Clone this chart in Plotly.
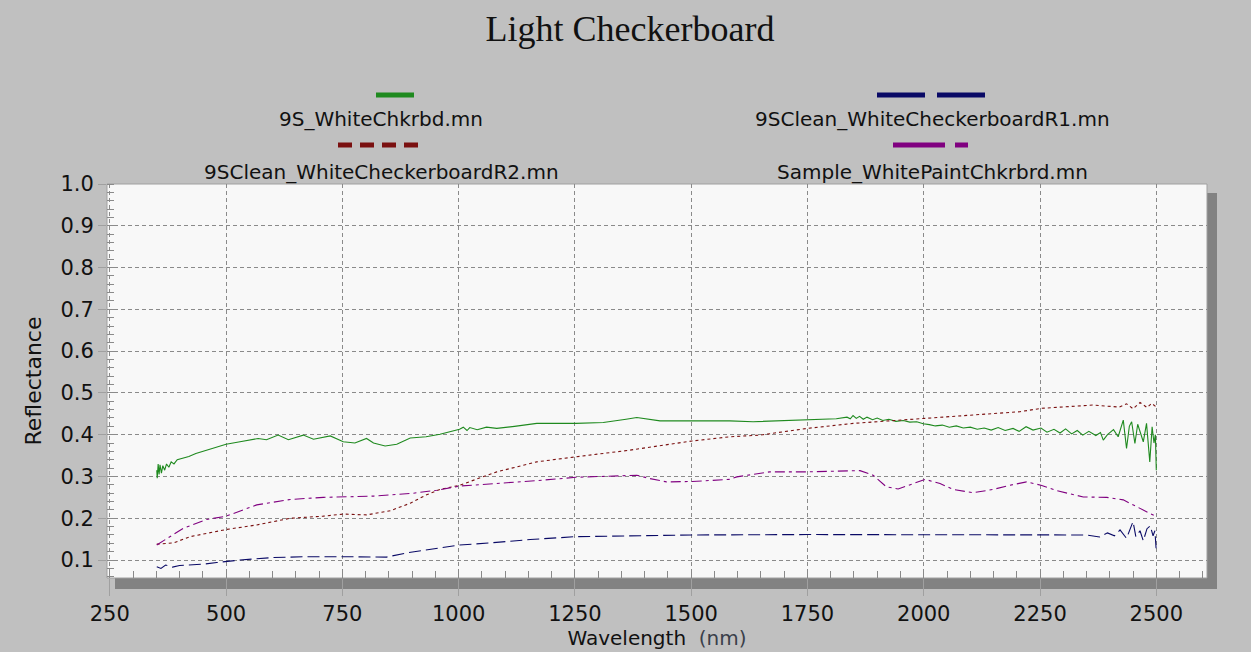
import plotly.graph_objects as go

# ---------------- data ----------------
SERIES_NAMES = ["9S_WhiteChkrbd.mn", "9SClean_WhiteCheckerboardR1.mn",
                "9SClean_WhiteCheckerboardR2.mn", "Sample_WhitePaintChkrbrd.mn"]

GREEN_NM = [351, 352, 354, 356, 358, 361, 364, 368, 372, 377, 382, 388, 395, 408, 420, 435, 458, 480,
            500, 530, 569, 587, 612, 634, 666, 688, 724, 752, 777, 802, 817, 842, 867, 896, 930, 960,
            1002, 1010, 1018, 1024, 1040, 1060, 1082, 1120, 1168, 1252, 1311, 1360, 1383, 1433, 1502,
            1583, 1633, 1700, 1749, 1812, 1835, 1842, 1848, 1855, 1862, 1870, 1878, 1890, 1900, 1912,
            1925, 1940, 1956, 1970, 1985, 1999, 2012, 2025, 2040, 2055, 2070, 2085, 2100, 2115, 2130,
            2145, 2160, 2175, 2192, 2205, 2220, 2235, 2252, 2265, 2280, 2293, 2305, 2318, 2330, 2342,
            2355, 2370, 2380, 2386, 2395, 2408, 2418, 2429, 2436, 2442, 2447, 2454, 2460, 2465, 2472,
            2479, 2486, 2491, 2495, 2498, 2500]
GREEN_R = [0.315, 0.296, 0.330, 0.305, 0.328, 0.308, 0.326, 0.315, 0.330, 0.322, 0.335, 0.330, 0.340,
           0.344, 0.348, 0.355, 0.363, 0.370, 0.377, 0.383, 0.391, 0.388, 0.399, 0.388, 0.399, 0.389,
           0.397, 0.383, 0.380, 0.391, 0.380, 0.373, 0.377, 0.392, 0.395, 0.401, 0.413, 0.418, 0.410,
           0.417, 0.412, 0.418, 0.415, 0.420, 0.427, 0.427, 0.429, 0.437, 0.441, 0.433, 0.433, 0.433,
           0.431, 0.434, 0.436, 0.438, 0.442, 0.438, 0.446, 0.439, 0.444, 0.437, 0.442, 0.436, 0.440,
           0.434, 0.437, 0.432, 0.434, 0.430, 0.431, 0.426, 0.424, 0.421, 0.423, 0.418, 0.421, 0.416,
           0.418, 0.413, 0.416, 0.411, 0.417, 0.410, 0.415, 0.408, 0.419, 0.411, 0.416, 0.406, 0.413,
           0.404, 0.414, 0.402, 0.410, 0.399, 0.408, 0.398, 0.405, 0.387, 0.400, 0.412, 0.395, 0.435,
           0.367, 0.420, 0.431, 0.379, 0.425, 0.409, 0.383, 0.427, 0.335, 0.419, 0.380, 0.400, 0.315]

NAVY_NM = [351, 360, 370, 385, 400, 423, 450, 480, 530, 602, 673, 745, 817, 845, 888, 946, 1002, 1068,
           1154, 1252, 1368, 1502, 1750, 2000, 2250, 2350, 2378, 2395, 2410, 2422, 2436, 2450, 2456,
           2465, 2472, 2480, 2487, 2493, 2497, 2500]
NAVY_R = [0.084, 0.080, 0.088, 0.083, 0.087, 0.088, 0.090, 0.094, 0.100, 0.106, 0.108, 0.108, 0.107,
          0.107, 0.117, 0.126, 0.136, 0.141, 0.149, 0.156, 0.158, 0.160, 0.161, 0.160, 0.160, 0.160,
          0.155, 0.165, 0.158, 0.172, 0.152, 0.192, 0.156, 0.170, 0.146, 0.175, 0.182, 0.158, 0.170,
          0.120]

RED_NM = [351, 387, 423, 500, 566, 638, 709, 752, 802, 853, 896, 931, 960, 1002, 1082, 1168, 1252,
          1368, 1502, 1583, 1648, 1749, 1848, 1999, 2135, 2207, 2252, 2365, 2420, 2436, 2450, 2465,
          2480, 2490, 2500]
RED_R = [0.138, 0.141, 0.156, 0.173, 0.184, 0.200, 0.205, 0.210, 0.208, 0.218, 0.236, 0.256, 0.269,
         0.279, 0.311, 0.335, 0.347, 0.363, 0.385, 0.395, 0.399, 0.415, 0.427, 0.439, 0.451, 0.455,
         0.463, 0.471, 0.466, 0.474, 0.462, 0.477, 0.465, 0.475, 0.466]

PURPLE_NM = [351, 380, 408, 458, 500, 566, 638, 709, 817, 903, 953, 1002, 1082, 1168, 1252, 1333, 1383,
             1411, 1447, 1502, 1583, 1598, 1669, 1749, 1863, 1891, 1920, 1945, 1977, 2003, 2035, 2063,
             2106, 2149, 2185, 2221, 2252, 2286, 2343, 2393, 2429, 2457, 2486, 2498]
PURPLE_R = [0.136, 0.156, 0.176, 0.197, 0.205, 0.232, 0.245, 0.250, 0.253, 0.260, 0.267, 0.277, 0.283,
            0.290, 0.298, 0.302, 0.303, 0.295, 0.287, 0.288, 0.293, 0.299, 0.311, 0.311, 0.314, 0.303,
            0.275, 0.270, 0.283, 0.293, 0.283, 0.269, 0.261, 0.269, 0.279, 0.287, 0.279, 0.266, 0.251,
            0.250, 0.244, 0.228, 0.212, 0.205]

X_TICKS = [250, 500, 750, 1000, 1250, 1500, 1750, 2000, 2250, 2500]
Y_TICKS = [0.1, 0.2, 0.3, 0.4, 0.5, 0.6, 0.7, 0.8, 0.9, 1.0]

COLORS = ["#1f8a1f", "#0a0a66", "#7a1010", "#800080"]
DASHES = ["solid", "12px,5px", "3px,3px", "10px,4px,3px,4px"]

SANS = "DejaVu Sans, Verdana, sans-serif"

# ---------------- layout geometry ----------------
W, H = 1251, 652
L, R, T, B = 107, 1207, 184, 578


def px(x):
    return (x - L) / (R - L)


def py(y):
    return (B - y) / (B - T)


fig = go.Figure()
for nm, rr, name, c, d in zip([GREEN_NM, NAVY_NM, RED_NM, PURPLE_NM],
                              [GREEN_R, NAVY_R, RED_R, PURPLE_R], SERIES_NAMES, COLORS, DASHES):
    fig.add_trace(go.Scatter(x=nm, y=rr, mode="lines", name=name,
                             line=dict(color=c, width=1.1, dash=d), showlegend=False))

shapes = [
    # shadow
    dict(type="rect", xref="paper", yref="paper", x0=px(115), x1=px(1217), y0=py(589), y1=py(193),
         fillcolor="#828282", line=dict(width=0), layer="below"),
    # plot area
    dict(type="rect", xref="paper", yref="paper", x0=0, x1=1, y0=0, y1=1,
         fillcolor="#f8f8f8", line=dict(color="#a0a0a0", width=1), layer="below"),
]

# custom legend (line sample above, text below)
legend_items = [
    (SERIES_NAMES[0], COLORS[0], "solid", 376, 414, 95, 381, 119),
    (SERIES_NAMES[1], COLORS[1], "48px,12px", 877, 987, 95, 932, 119),
    (SERIES_NAMES[2], COLORS[2], "14px,8px", 338, 423, 145, 381, 172),
    (SERIES_NAMES[3], COLORS[3], "52px,10px,13px,100px", 893, 968, 145, 932, 172),
]
annotations = []
for name, c, d, x0, x1, ly, tx, ty in legend_items:
    shapes.append(dict(type="line", xref="paper", yref="paper", x0=px(x0), x1=px(x1),
                       y0=py(ly), y1=py(ly), line=dict(color=c, width=5, dash=d)))
    annotations.append(dict(text=name, xref="paper", yref="paper", x=px(tx), y=py(ty),
                            xanchor="center", yanchor="middle", showarrow=False,
                            font=dict(family=SANS, size=20, color="#111111")))

fig.update_layout(
    width=W, height=H,
    margin=dict(l=L, r=W - R, t=T, b=H - B, autoexpand=False),
    paper_bgcolor="#c0c0c0",
    plot_bgcolor="rgba(0,0,0,0)",
    title=dict(text="Light Checkerboard", xref="container", yref="container",
               x=630 / W, y=1 - 28 / H, xanchor="center", yanchor="middle",
               font=dict(family="Liberation Serif, Times New Roman", size=36, color="#111111")),
    shapes=shapes,
    annotations=annotations,
    showlegend=False,
    font=dict(family=SANS, color="#111111"),
)

fig.update_xaxes(
    range=[244, 2609], tickvals=X_TICKS, ticktext=[str(v) for v in X_TICKS],
    showgrid=True, gridcolor="#8a8a8a", gridwidth=1, griddash="4px,3px",
    ticks="outside", ticklen=17, tickcolor="#a0a0a0", tickwidth=1,
    tickfont=dict(family=SANS, size=21, color="#111111"),
    showline=False, zeroline=False,
    minor=dict(dtick=50, tick0=0, ticks="inside", ticklen=7, tickcolor="#8a8a8a", showgrid=False),
    title=dict(text="Wavelength&nbsp; <span style='color:#3a3f4a'>(nm)</span>", standoff=2,
               font=dict(family=SANS, size=20, color="#111111")),
    automargin=False,
)
fig.update_yaxes(
    range=[0.057, 1.0], tickvals=Y_TICKS, ticktext=["%.1f" % v for v in Y_TICKS],
    showgrid=True, gridcolor="#8a8a8a", gridwidth=1, griddash="4px,3px",
    ticks="outside", ticklen=8, tickcolor="#a0a0a0", tickwidth=1,
    tickfont=dict(family=SANS, size=21, color="#111111"),
    showline=False, zeroline=False,
    minor=dict(dtick=0.02, tick0=0, ticks="inside", ticklen=7, tickcolor="#8a8a8a", showgrid=False),
    title=dict(text="Reflectance", standoff=12, font=dict(family=SANS, size=22, color="#111111")),
    automargin=False,
)

fig.write_html("out.html", config={"displayModeBar": False},
               post_script="document.body.style.margin='0';document.body.style.overflow='hidden';")
